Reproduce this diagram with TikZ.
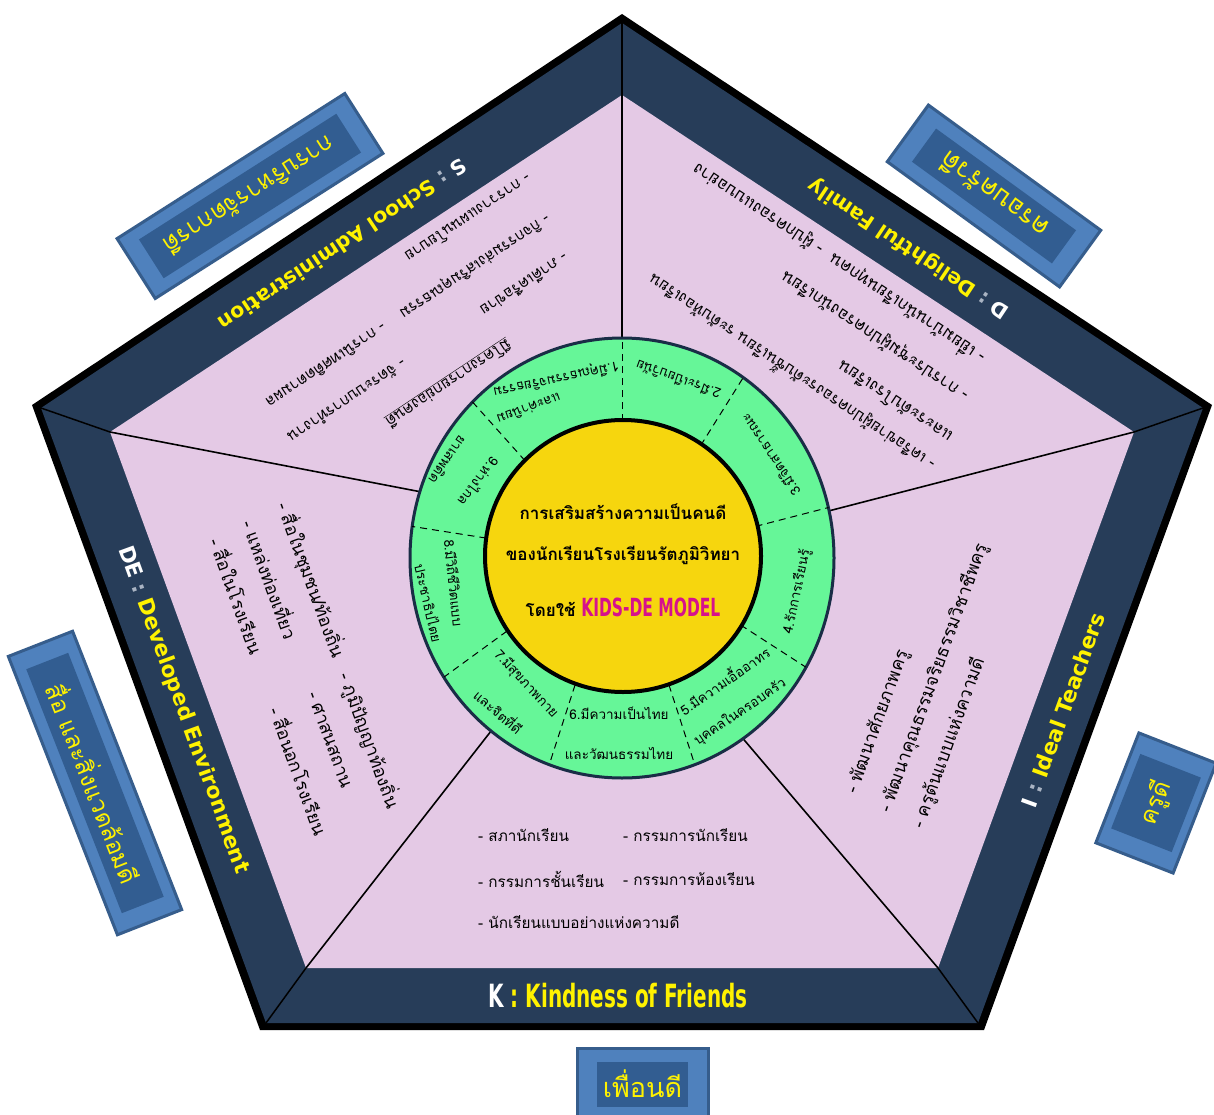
\documentclass[tikz,border=0pt]{standalone}
\usepackage{fontspec}
\usepackage{graphicx}
\usetikzlibrary{calc}
\newfontfamily\thai[Script=Thai]{Loma}
\newfontfamily\bandfont{DejaVu Sans}
\definecolor{navyband}{RGB}{39,61,89}
\definecolor{pinkbg}{RGB}{228,201,229}
\definecolor{ringgreen}{RGB}{102,246,152}
\definecolor{ringedge}{RGB}{25,45,70}
\definecolor{centeryellow}{RGB}{246,214,14}
\definecolor{kidsmag}{RGB}{214,18,140}
\definecolor{labelyellow}{RGB}{255,242,0}
\definecolor{colongrey}{RGB}{170,180,195}
\definecolor{boxouter}{RGB}{79,129,189}
\definecolor{boxedge}{RGB}{54,93,140}
\definecolor{boxinner}{RGB}{50,93,145}
\tikzset{
  sectxt/.style={font=\thai\fontsize{18}{18}\selectfont, inner sep=0pt, anchor=west},
  stxt/.style={font=\thai\fontsize{15.5}{15.5}\selectfont, inner sep=0pt, anchor=west, rotate=213.6},
  dtxt/.style={font=\thai\fontsize{17}{17}\selectfont, inner sep=0pt, anchor=west, rotate=146.4},
  kline/.style={font=\thai\fontsize{15.3}{15.3}\selectfont, inner sep=0pt, anchor=west},
  ringtxt/.style={font=\thai\fontsize{13.5}{13.5}\selectfont, inner sep=0pt},
  centertxt/.style={font=\thai\bfseries\fontsize{17}{17}\selectfont, inner sep=0pt},
  bandtxt/.style={font=\bandfont\bfseries\fontsize{20.5}{20.5}\selectfont, text=labelyellow, inner sep=0pt},
  boxout/.style={draw=boxedge, line width=3pt, fill=boxouter, inner sep=0pt},
  boxin/.style={fill=boxinner, inner sep=0pt},
  boxtxt/.style={text=labelyellow, inner sep=0pt, font=\thai\fontsize{24}{24}\selectfont},
  bevel/.style={line width=1.5pt, black},
  divline/.style={line width=1.6pt, black},
  dashdiv/.style={line width=1pt, dash pattern=on 7pt off 5pt, black},
}
\begin{document}
\begin{tikzpicture}[x=1pt,y=-1pt]
\useasboundingbox (0,0) rectangle (1214,1115);
\fill[white] (0,0) rectangle (1214,1115);
% pentagon vertices
\coordinate (O1) at (622,14);   \coordinate (O2) at (1212,405);
\coordinate (O3) at (984,1030); \coordinate (O4) at (260,1030);
\coordinate (O5) at (32,405);
\coordinate (N1) at (622,23);   \coordinate (N2) at (1203,408);
\coordinate (N3) at (978,1023); \coordinate (N4) at (266,1023);
\coordinate (N5) at (41,408);
\coordinate (P1) at (622,95);   \coordinate (P2) at (1134,432);
\coordinate (P3) at (938,968);  \coordinate (P4) at (306,968);
\coordinate (P5) at (110,432);
\fill[black] (O1)--(O2)--(O3)--(O4)--(O5)--cycle;
\fill[navyband] (N1)--(N2)--(N3)--(N4)--(N5)--cycle;
\fill[pinkbg] (P1)--(P2)--(P3)--(P4)--(P5)--cycle;
\foreach \i in {1,...,5} { \draw[bevel] (N\i) -- (P\i); }
% sector lines
\coordinate (R1) at (622,360); \coordinate (R2) at (813,515);
\coordinate (R3) at (734,728); \coordinate (R4) at (502,717);
\coordinate (R5) at (432,494);
\foreach \i in {1,...,5} { \draw[divline] (P\i) -- (R\i); }
% ring
\filldraw[fill=ringgreen, draw=ringedge, line width=3pt] (622,558) ellipse [x radius=212pt, y radius=220pt];
\draw[dashdiv] (622,421) -- (622,337);
\draw[dashdiv] (700.6,445.6) -- (743.7,376.8);
\draw[dashdiv] (755.5,526.4) -- (828.5,507.5);
\draw[dashdiv] (740.6,625) -- (805.6,667);
\draw[dashdiv] (668.9,684.8) -- (694.5,763.8);
\draw[dashdiv] (575.1,684.8) -- (549.5,763.8);
\draw[dashdiv] (507.1,631) -- (444.2,676.9);
\draw[dashdiv] (486.3,538.1) -- (412,526.4);
\draw[dashdiv] (525.1,460.8) -- (472.1,401.5);
\filldraw[fill=centeryellow, draw=black, line width=4pt] (623,556) ellipse [x radius=138pt, y radius=136pt];
% center text
\node[centertxt] (c1) at (623,512) {การเสริมสร้างความเป็นคนดี};
\node[centertxt] (c2) at (623,555) {ของนักเรียนโรงเรียนรัตภูมิวิทยา};
\node[centertxt] (c3) at (623,607) {โดยใช้ {\color{kidsmag}\scalebox{0.62}[1]{\bandfont\bfseries\fontsize{25}{25}\selectfont KIDS-DE MODEL}}};
% ring texts
\node[ringtxt, rotate=192] (r1a) at (556,379) {1.มีคุณธรรมจริยธรรม};
\node[ringtxt, rotate=200] (r1b) at (529,409) {และค่านิยม};
\node[ringtxt, rotate=160] (r2) at (678,380) {2.มีระเบียบวินัย};
\node[ringtxt, rotate=124] (r3) at (770,455) {3.มีจิตสาธารณะ};
\node[ringtxt, rotate=78] (r4) at (797,592) {4.รักการเรียนรู้};
\node[ringtxt, rotate=35] (r5a) at (724,680) {5.มีความเอื้ออาทร};
\node[ringtxt, rotate=34] (r5b) at (740,712) {บุคคลในครอบครัว};
\node[ringtxt] (r6a) at (619,713) {6.มีความเป็นไทย};
\node[ringtxt] (r6b) at (619,753) {และวัฒนธรรมไทย};
\node[ringtxt, rotate=-47] (r7a) at (526,684) {7.มีสุขภาพกาย};
\node[ringtxt, rotate=-41] (r7b) at (499,711) {และจิตที่ดี};
\node[ringtxt, rotate=-84] (r8a) at (454,583) {8.มีวิถีชีวิตแบบ};
\node[ringtxt, rotate=-77] (r8b) at (429,603) {ประชาธิปไตย};
\node[ringtxt, rotate=233] (r9a) at (479,482) {9.ห่างไกล};
\node[ringtxt, rotate=235] (r9b) at (448,460) {ยาเสพติด};
% band labels
\node[bandtxt, rotate=213.6] (lS) at (343,245) {{\color{white}S} {\color{colongrey}:} School Administration};
\node[bandtxt, rotate=146.4] (lD) at (909,248) {{\color{white}D} {\color{colongrey}:} Delightful Family};
\node[bandtxt, rotate=70, font=\bandfont\bfseries\fontsize{21.5}{21.5}\selectfont] (lI) at (1063,710) {{\color{white}I} {\color{colongrey}:} Ideal Teachers};
\node[bandtxt, rotate=-70, font=\bandfont\bfseries\fontsize{21.5}{21.5}\selectfont] (lDE) at (183,710) {{\color{white}DE} {\color{colongrey}:} Developed Environment};
\node[text=labelyellow, inner sep=0pt] (lK) at (618,996) {\scalebox{0.625}[1]{\bandfont\bfseries\fontsize{32}{32}\selectfont{\color{white}K} : Kindness of Friends}};
% S section
\node[stxt] (s1) at (530,178) {- การวางแผนนโยบาย};
\node[stxt] (s2) at (548,217) {- กิจกรรมส่งเสริมคุณธรรม};
\node[stxt] (s3) at (567,257) {- ภาคีเครือข่าย};
\node[stxt] (s4) at (385,327) {- การนิเทศติดตามผล};
\node[stxt] (s5) at (405,363) {- จัดระบบการทำงาน};
\node[stxt] (s6) at (510,343) {\underline{มีโครงการยกย่องคนดี}};
% D section
\node[dtxt] (d1) at (983,360) {- เยี่ยมบ้านนักเรียนทุกคน\ \ - ผู้ปกครองแบบอย่าง};
\node[dtxt] (d2) at (967,397) {- การประชุมผู้ปกครองนักเรียน};
\node[dtxt] (d3) at (950,440) {และระดับโรงเรียน};
\node[dtxt, font=\thai\fontsize{16}{16}\selectfont] (d4) at (933,467) {- เครือข่ายผู้ปกครองระดับชั้นเรียน ระดับห้องเรียน};
% I section
\node[sectxt, rotate=70] (i1) at (852,793) {- พัฒนาศักยภาพครู};
\node[sectxt, rotate=70] (i2) at (885,812) {- พัฒนาคุณธรรมจริยธรรมวิชาชีพครู};
\node[sectxt, rotate=70] (i3) at (918,828) {- ครูต้นแบบแห่งความดี};
% DE section
\node[sectxt, rotate=-70] (e1) at (283,503) {- สื่อในชุมชน/ท้องถิ่น};
\node[sectxt, rotate=-70] (e2) at (250,520) {- แหล่งท่องเที่ยว};
\node[sectxt, rotate=-70] (e3) at (217,538) {- สื่อในโรงเรียน};
\node[sectxt, rotate=-70] (e4) at (345,673) {- ภูมิปัญญาท้องถิ่น};
\node[sectxt, rotate=-70] (e5) at (312,692) {- ศาสนสถาน};
\node[sectxt, rotate=-70] (e6) at (277,707) {- สื่อนอกโรงเรียน};
% K section
\node[kline] (k1) at (478,835) {- สภานักเรียน};
\node[kline] (k2) at (623,835) {- กรรมการนักเรียน};
\node[kline] (k3) at (478,879) {- กรรมการชั้นเรียน};
\node[kline] (k4) at (623,879) {- กรรมการห้องเรียน};
\node[kline] (k5) at (478,922) {- นักเรียนแบบอย่างแห่งความดี};
% blue boxes
\node[boxout, rotate=212.5, minimum width=270pt, minimum height=71pt] (bSo) at (250,196) {};
\node[boxin, rotate=212.5, minimum width=234pt, minimum height=46pt] (bSi) at (bSo.center) {};
\node[boxtxt, rotate=212.5] (bSt) at (bSo.center) {การบริหารจัดการดี};
\node[boxout, rotate=144, minimum width=213pt, minimum height=70pt] (bDo) at (994,196) {};
\node[boxin, rotate=144, minimum width=173pt, minimum height=41pt] (bDi) at (bDo.center) {};
\node[boxtxt, rotate=144, font=\thai\fontsize{26}{26}\selectfont] (bDt) at (bDo.center) {ครอบครัวดี};
\node[boxout, rotate=-68.6, minimum width=299pt, minimum height=69pt] (bEo) at (95,783) {};
\node[boxin, rotate=-68.6, minimum width=262pt, minimum height=45pt] (bEi) at (bEo.center) {};
\node[boxtxt, rotate=-68.6] (bEt) at (bEo.center) {สื่อ และสิ่งแวดล้อมดี};
\node[boxout, rotate=68.6, minimum width=118pt, minimum height=83pt] (bIo) at (1156,803) {};
\node[boxin, rotate=68.6, minimum width=80pt, minimum height=65pt] (bIi) at (bIo.center) {};
\node[boxtxt, rotate=68.6] (bIt) at (bIo.center) {ครูดี};
\begin{scope}
\clip (0,0) rectangle (1214,1115);
\node[boxout, minimum width=131pt, minimum height=74pt] (bKo) at (642.5,1085) {};
\node[boxin, minimum width=91pt, minimum height=45pt] (bKi) at (642.5,1084.5) {};
\node[boxtxt, font=\thai\fontsize{27}{27}\selectfont] (bKt) at (642.5,1084) {เพื่อนดี};
\end{scope}
\end{tikzpicture}
\end{document}
